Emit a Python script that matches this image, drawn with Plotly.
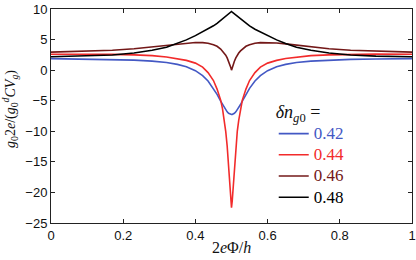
import plotly.graph_objects as go

# flux samples 2eΦ/h (denser near the resonance at 0.5)
x = [0.0, 0.1, 0.17, 0.23, 0.28, 0.32, 0.35, 0.375, 0.4, 0.42, 0.435, 0.45, 0.46, 0.47, 0.475,
     0.48, 0.484, 0.488, 0.492, 0.495, 0.498, 0.5,
     0.502, 0.505, 0.508, 0.512, 0.516, 0.52, 0.525, 0.53, 0.54, 0.55, 0.565, 0.58, 0.6,
     0.625, 0.65, 0.68, 0.72, 0.77, 0.83, 0.9, 1.0]

labels = ["0.42", "0.44", "0.46", "0.48"]

y_042 = [1.89, 1.83, 1.76, 1.64, 1.47, 1.24, 0.94, 0.55, -0.09, -0.90, -1.78, -2.98, -3.97, -5.07, -5.62,
         -6.14, -6.50, -6.82, -7.05, -7.17, -7.24, -7.25,
         -7.24, -7.17, -7.05, -6.82, -6.50, -6.14, -5.62, -5.07, -3.97, -2.98, -1.78, -0.90, -0.09,
         0.55, 0.94, 1.24, 1.47, 1.64, 1.76, 1.83, 1.89]

y_044 = [2.60, 2.62, 2.58, 2.50, 2.38, 2.15, 1.90, 1.60, 1.15, 0.50, -0.40, -1.70, -3.10, -4.90, -6.30,
         -8.20, -10.0, -12.4, -15.7, -18.6, -21.4, -22.5,
         -21.4, -18.6, -15.7, -12.4, -10.0, -8.20, -6.30, -4.90, -3.10, -1.70, -0.40, 0.50, 1.15,
         1.60, 1.90, 2.15, 2.38, 2.50, 2.58, 2.62, 2.60]

y_046 = [2.95, 3.08, 3.25, 3.50, 3.80, 4.10, 4.30, 4.45, 4.52, 4.50, 4.40, 4.15, 3.90, 3.45, 3.15,
         2.80, 2.45, 2.00, 1.45, 1.00, 0.45, 0.00,
         0.45, 1.00, 1.45, 2.00, 2.45, 2.80, 3.15, 3.45, 3.90, 4.15, 4.40, 4.50, 4.52,
         4.45, 4.30, 4.10, 3.80, 3.50, 3.25, 3.08, 2.95]

y_048 = [2.20, 2.30, 2.47, 2.80, 3.25, 3.75, 4.35, 4.95, 5.65, 6.25, 6.70, 7.25, 7.65, 8.10, 8.35,
         8.60, 8.80, 9.00, 9.20, 9.35, 9.50, 9.60,
         9.50, 9.35, 9.20, 9.00, 8.80, 8.60, 8.35, 8.10, 7.65, 7.25, 6.70, 6.25, 5.65,
         4.95, 4.35, 3.75, 3.25, 2.80, 2.47, 2.30, 2.20]

series = [y_042, y_044, y_046, y_048]
colors = ["#4358c4", "#f22b2b", "#731818", "#000000"]

fig = go.Figure()
for lab, ys, c in zip(labels, series, colors):
    fig.add_trace(go.Scatter(
        x=x, y=ys, mode="lines",
        line=dict(color=c, width=1.6),
        name=f'<span style="color:{c};font-size:17px">{lab}</span>',
    ))

axis_common = dict(
    showgrid=False, zeroline=False, showline=True, linecolor="#222222", linewidth=1,
    mirror="ticks", ticks="inside", ticklen=4, tickcolor="#222222", automargin=False,
    ticklabeloverflow="allow",
    tickfont=dict(family="Liberation Sans, Arial, sans-serif", size=13, color="#111111"),
)

fig.update_layout(
    width=416, height=260,
    margin=dict(l=51, r=4, t=9, b=37),
    paper_bgcolor="white", plot_bgcolor="white",
    xaxis=dict(range=[0, 1], tickvals=[0, 0.2, 0.4, 0.6, 0.8, 1],
               ticktext=["0", "0.2", "0.4", "0.6", "0.8", "1"],
               title=dict(text="2<i>e</i>Φ/<i>h</i>", standoff=0,
                          font=dict(family="Liberation Serif, serif", size=16, color="#111111")),
               **axis_common),
    yaxis=dict(range=[-25, 10], tickvals=[-25, -20, -15, -10, -5, 0, 5, 10],
               title=dict(text="&nbsp;&nbsp;&nbsp;&nbsp;<i>g</i><sub>0</sub>2<i>e</i>/(<i>g</i><sub>0</sub><sup><i>d</i></sup><i>CV</i><sub><i>g</i></sub>)",
                          standoff=10,
                          font=dict(family="Liberation Serif, serif", size=14, color="#111111")),
               **axis_common),
    showlegend=True,
    legend=dict(
        x=0.617, y=0.60, xanchor="left", yanchor="top",
        bgcolor="rgba(0,0,0,0)", borderwidth=0,
        font=dict(family="Liberation Serif, serif", size=14, color="#111111"),
        title=dict(text="<i>δn</i><sub><i>g</i>0</sub> =",
                   font=dict(family="Liberation Serif, serif", size=18, color="#111111")),
        itemwidth=30, tracegroupgap=0,
    ),
)

fig.write_html("out.html", config={"displayModeBar": False},
               post_script="document.body.style.margin='0';document.body.style.overflow='hidden';")
